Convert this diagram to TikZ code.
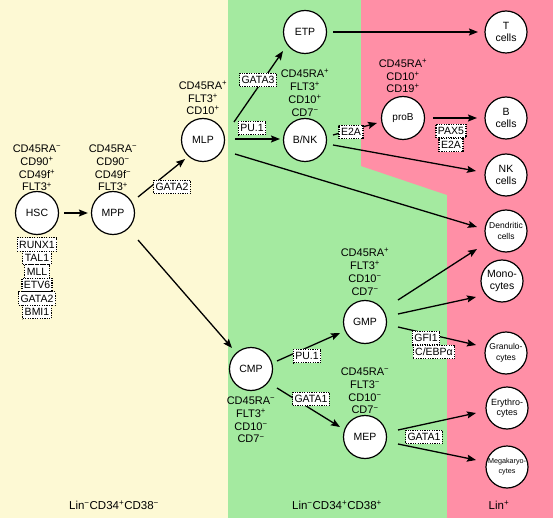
\documentclass[tikz,border=0pt]{standalone}
\usepackage{fontspec}
\setmainfont{Liberation Sans}
\usetikzlibrary{arrows.meta}
\definecolor{bgY}{RGB}{253,249,212}
\definecolor{bgG}{RGB}{164,234,160}
\definecolor{bgP}{RGB}{255,143,166}
\newcommand\Pos{\textsuperscript{+}}
\newcommand\Neg{\textsuperscript{−}}
\begin{document}
\begin{tikzpicture}[x=1pt,y=-1pt,
  cell/.style={circle,draw,line width=1.2pt,fill=white,minimum size=43pt,inner sep=0pt,align=center,font=\fontsize{10.5}{11.5}\selectfont},
  tf/.style={draw,fill=white,line width=1.3pt,dash pattern=on 1.2pt off 1.2pt,inner xsep=2pt,inner ysep=0pt,minimum height=13.5pt,font=\fontsize{10.5}{11}\selectfont},
  mk/.style={align=center,font=\fontsize{11}{12.8}\selectfont},
  arr/.style={-{Stealth[length=9pt,width=7pt,inset=1.5pt]},line width=1.3pt},
  lab/.style={font=\fontsize{11.5}{13}\selectfont}]
\fill[bgY] (0,0) rectangle (228,518);
\fill[bgG] (228,0) rectangle (447,518);
\fill[bgP] (361,0) -- (553,0) -- (553,518) -- (447,518) -- (447,195) -- (361,166) -- cycle;
\useasboundingbox (0,0) rectangle (553,518);

% cells
\node[cell] (HSC) at (37,213) {HSC};
\node[cell] (MPP) at (113,213) {MPP};
\node[cell] (MLP) at (203,140) {MLP};
\node[cell] (ETP) at (305,32) {ETP};
\node[cell] (BNK) at (305,140) {B/NK};
\node[cell,font=\fontsize{10}{11}\selectfont] (proB) at (403,118) {proB};
\node[cell,minimum size=42pt] (T) at (506,32) {T\\cells};
\node[cell,minimum size=42pt] (B) at (506,118) {B\\cells};
\node[cell,minimum size=42pt] (NK) at (506,175) {NK\\cells};
\node[cell,minimum size=42pt,font=\fontsize{8.5}{10.5}\selectfont] (DC) at (506,231) {Dendritic\\cells};
\node[cell,minimum size=42pt,font=\fontsize{10.5}{11.5}\selectfont] (Mono) at (502,281) {Mono-\\cytes};
\node[cell,minimum size=42pt,font=\fontsize{8.5}{10.5}\selectfont] (Gran) at (506,353) {Granulo-\\cytes};
\node[cell,minimum size=42pt,font=\fontsize{9}{10.5}\selectfont] (Ery) at (507,408) {Erythro-\\cytes};
\node[cell,minimum size=42pt,font=\fontsize{7.2}{10}\selectfont] (Mega) at (507,467) {Megakaryo-\\cytes};
\node[cell] (CMP) at (251,369) {CMP};
\node[cell] (GMP) at (365,322) {GMP};
\node[cell] (MEP) at (365,437) {MEP};

% markers
\node[mk] (mHSC) at (37,168) {CD45RA\Neg\\CD90\Pos\\CD49f\Pos\\FLT3\Pos};
\node[mk] (mMPP) at (113,168) {CD45RA\Neg\\CD90\Neg\\CD49f\Neg\\FLT3\Pos};
\node[mk] (mMLP) at (203,98) {CD45RA\Pos\\FLT3\Pos\\CD10\Pos};
\node[mk] (mBNK) at (305,93) {CD45RA\Pos\\FLT3\Pos\\CD10\Pos\\CD7\Neg};
\node[mk] (mproB) at (403,76) {CD45RA\Pos\\CD10\Pos\\CD19\Pos};
\node[mk] (mGMP) at (365,272) {CD45RA\Pos\\FLT3\Pos\\CD10\Neg\\CD7\Neg};
\node[mk] (mMEP) at (365,391) {CD45RA\Neg\\FLT3\Neg\\CD10\Neg\\CD7\Neg};
\node[mk] (mCMP) at (251,420) {CD45RA\Neg\\FLT3\Pos\\CD10\Neg\\CD7\Neg};

% arrows
\draw[arr] ([xshift=5pt]HSC.east) -- ([xshift=-3pt]MPP.west);
\draw[arr] ([shift={(25,-16)}]MPP.center) -- ([shift={(-18,19)}]MLP.center);
\draw[arr] ([shift={(25,27)}]MPP.center) -- ([shift={(-19,-21)}]CMP.center);
\draw[arr] ([shift={(31,-18)}]MLP.center) -- ([shift={(-22,19)}]ETP.center);
\draw[arr] ([shift={(32,-1)}]MLP.center) -- ([shift={(-25,-1)}]BNK.center);
\draw[arr] ([shift={(32,14)}]MLP.center) -- ([shift={(-29,-4)}]DC.center);
\draw[arr] ([shift={(28,0)}]ETP.center) -- ([shift={(-28,0)}]T.center);
\draw[arr] ([shift={(28,-5)}]BNK.center) -- ([shift={(-26,5)}]proB.center);
\draw[arr] ([shift={(28,5)}]BNK.center) -- ([shift={(-30,-4)}]NK.center);
\draw[arr] ([shift={(30,0)}]proB.center) -- ([shift={(-29,0)}]B.center);
\draw[arr] ([shift={(33,-22)}]GMP.center) -- ([shift={(-29,18)}]DC.center);
\draw[arr] ([shift={(33,-8)}]GMP.center) -- ([shift={(-26,16)}]Mono.center);
\draw[arr] ([shift={(33,5)}]GMP.center) -- ([shift={(-30,-8)}]Gran.center);
\draw[arr] ([shift={(26,-8)}]CMP.center) -- ([shift={(-25,11)}]GMP.center);
\draw[arr] ([shift={(26,19)}]CMP.center) -- ([shift={(-25,-10)}]MEP.center);
\draw[arr] ([shift={(33,-7)}]MEP.center) -- ([shift={(-31,5)}]Ery.center);
\draw[arr] ([shift={(33,7)}]MEP.center) -- ([shift={(-31,-7)}]Mega.center);

% transcription factors
\node[tf] (t1) at (37,244.5) {RUNX1};
\node[tf] (t2) at (37,258) {TAL1};
\node[tf] (t3) at (37,271.5) {MLL};
\node[tf] (t4) at (37,285) {ETV6};
\node[tf] (t5) at (37,298.5) {GATA2};
\node[tf] (t6) at (37,312) {BMI1};
\node[tf] (gata2) at (172,187) {GATA2};
\node[tf] (gata3) at (258,80) {GATA3};
\node[tf] (pu1a) at (252,128) {PU.1};
\node[tf] (e2a) at (351,132) {E2A};
\node[tf] (pax5) at (451,131) {PAX5};
\node[tf] (e2b) at (451,145) {E2A};
\node[tf] (gfi1) at (426,338) {GFI1};
\node[tf] (cebp) at (434,352) {C/EBPα};
\node[tf] (pu1b) at (307,356) {PU.1};
\node[tf] (gata1a) at (311,399) {GATA1};
\node[tf] (gata1b) at (424,437) {GATA1};

% bottom labels
\node[lab] (L1) at (114,505) {Lin\Neg CD34\Pos CD38\Neg};
\node[lab] (L2) at (337,505) {Lin\Neg CD34\Pos CD38\Pos};
\node[lab] (L3) at (499,505) {Lin\Pos};
\end{tikzpicture}
\end{document}
